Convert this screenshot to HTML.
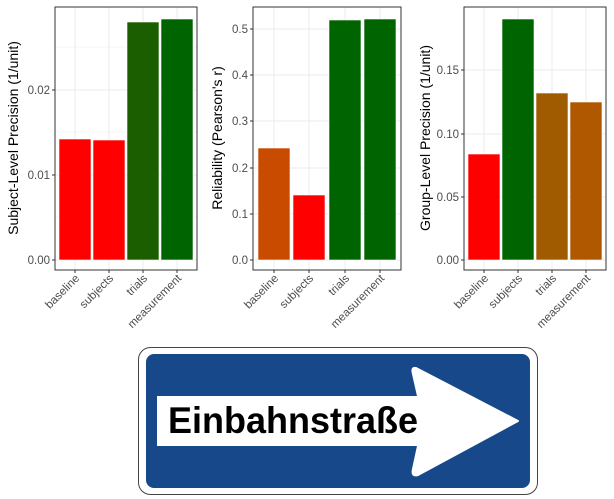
<!DOCTYPE html>
<html><head><meta charset="utf-8"><style>body{margin:0;background:#fff}svg{display:block}</style></head>
<body>
<svg width="614" height="499" viewBox="0 0 614 499" xmlns="http://www.w3.org/2000/svg" font-family="Liberation Sans, sans-serif">
<g stroke="#ebebeb" stroke-width="1">
<line x1="55" x2="197" y1="260" y2="260"/><line x1="55" x2="197" y1="175" y2="175"/><line x1="55" x2="197" y1="90" y2="90"/>
<line x1="55" x2="197" y1="217" y2="217" stroke-width="0.5"/><line x1="55" x2="197" y1="132" y2="132" stroke-width="0.5"/><line x1="55" x2="197" y1="47" y2="47" stroke-width="0.5"/>
<line x1="75" x2="75" y1="7" y2="270"/><line x1="109" x2="109" y1="7" y2="270"/><line x1="143" x2="143" y1="7" y2="270"/><line x1="177" x2="177" y1="7" y2="270"/>
<line x1="253" x2="401" y1="260" y2="260"/><line x1="253" x2="401" y1="214" y2="214"/><line x1="253" x2="401" y1="168" y2="168"/><line x1="253" x2="401" y1="121" y2="121"/><line x1="253" x2="401" y1="75" y2="75"/><line x1="253" x2="401" y1="29" y2="29"/>
<line x1="274" x2="274" y1="7" y2="270"/><line x1="309" x2="309" y1="7" y2="270"/><line x1="345" x2="345" y1="7" y2="270"/><line x1="380" x2="380" y1="7" y2="270"/>
<line x1="464" x2="606" y1="260" y2="260"/><line x1="464" x2="606" y1="197" y2="197"/><line x1="464" x2="606" y1="134" y2="134"/><line x1="464" x2="606" y1="70" y2="70"/>
<line x1="484" x2="484" y1="7" y2="270"/><line x1="518" x2="518" y1="7" y2="270"/><line x1="552" x2="552" y1="7" y2="270"/><line x1="586" x2="586" y1="7" y2="270"/>
</g>
<g stroke="#fff" stroke-width="0.6">
<rect x="59" y="139" width="32" height="121" fill="#ff0000"/>
<rect x="93" y="140" width="32" height="120" fill="#ff0000"/>
<rect x="127" y="22" width="32" height="238" fill="#1a5e00"/>
<rect x="161" y="19" width="32" height="241" fill="#006400"/>
<rect x="258" y="148" width="32" height="112" fill="#c84b00"/>
<rect x="293" y="195" width="32" height="65" fill="#ff0000"/>
<rect x="329" y="20" width="32" height="240" fill="#006400"/>
<rect x="364" y="19" width="32" height="241" fill="#006400"/>
<rect x="468" y="154" width="32" height="106" fill="#ff0000"/>
<rect x="502" y="19" width="32" height="241" fill="#006400"/>
<rect x="536" y="93" width="32" height="167" fill="#a05a00"/>
<rect x="570" y="102" width="32" height="158" fill="#b05800"/>
</g>
<g fill="none" stroke="#333" stroke-width="1">
<rect x="55" y="7" width="142" height="263"/><rect x="253" y="7" width="148" height="263"/><rect x="464" y="7" width="142" height="263"/>
</g>
<g stroke="#333" stroke-width="1">
<line x1="52" x2="55" y1="260" y2="260"/><line x1="52" x2="55" y1="175" y2="175"/><line x1="52" x2="55" y1="90" y2="90"/>
<line x1="250" x2="253" y1="260" y2="260"/><line x1="250" x2="253" y1="214" y2="214"/><line x1="250" x2="253" y1="168" y2="168"/><line x1="250" x2="253" y1="121" y2="121"/><line x1="250" x2="253" y1="75" y2="75"/><line x1="250" x2="253" y1="29" y2="29"/>
<line x1="461" x2="464" y1="260" y2="260"/><line x1="461" x2="464" y1="197" y2="197"/><line x1="461" x2="464" y1="134" y2="134"/><line x1="461" x2="464" y1="70" y2="70"/>
<line x1="75" x2="75" y1="270" y2="273"/><line x1="109" x2="109" y1="270" y2="273"/><line x1="143" x2="143" y1="270" y2="273"/><line x1="177" x2="177" y1="270" y2="273"/>
<line x1="274" x2="274" y1="270" y2="273"/><line x1="309" x2="309" y1="270" y2="273"/><line x1="345" x2="345" y1="270" y2="273"/><line x1="380" x2="380" y1="270" y2="273"/>
<line x1="484" x2="484" y1="270" y2="273"/><line x1="518" x2="518" y1="270" y2="273"/><line x1="552" x2="552" y1="270" y2="273"/><line x1="586" x2="586" y1="270" y2="273"/>
</g>
<g fill="#4d4d4d" font-size="11.5" text-anchor="end">
<text x="50" y="264">0.00</text><text x="50" y="179">0.01</text><text x="50" y="94">0.02</text>
<text x="248" y="264">0.0</text><text x="248" y="218">0.1</text><text x="248" y="172">0.2</text><text x="248" y="125">0.3</text><text x="248" y="79">0.4</text><text x="248" y="33">0.5</text>
<text x="459" y="264">0.00</text><text x="459" y="201">0.05</text><text x="459" y="138">0.10</text><text x="459" y="74">0.15</text>
<text transform="translate(80,279) rotate(-45)">baseline</text>
<text transform="translate(114,279) rotate(-45)">subjects</text>
<text transform="translate(148,279) rotate(-45)">trials</text>
<text transform="translate(182,279) rotate(-45)">measurement</text>
<text transform="translate(279,279) rotate(-45)">baseline</text>
<text transform="translate(314,279) rotate(-45)">subjects</text>
<text transform="translate(350,279) rotate(-45)">trials</text>
<text transform="translate(385,279) rotate(-45)">measurement</text>
<text transform="translate(489,279) rotate(-45)">baseline</text>
<text transform="translate(523,279) rotate(-45)">subjects</text>
<text transform="translate(557,279) rotate(-45)">trials</text>
<text transform="translate(591,279) rotate(-45)">measurement</text>
</g>
<g fill="#000" font-size="14" text-anchor="middle">
<text transform="translate(18,138) rotate(-90)">Subject-Level Precision (1/unit)</text>
<text transform="translate(222,138) rotate(-90)">Reliability (Pearson's r)</text>
<text transform="translate(430,138) rotate(-90)">Group-Level Precision (1/unit)</text>
</g>
<rect x="138.5" y="347.5" width="399" height="147" rx="12" fill="#fff" stroke="#444" stroke-width="1"/>
<rect x="146" y="354" width="384" height="134" rx="8" fill="#17498a"/>
<rect x="157" y="396" width="262" height="50" fill="#fff"/>
<path d="M416 368 Q411 367 413 374 L418 396 L418 446 L413 469 Q411 477 418 475 L518 421 Z" fill="#fff" stroke="#fff" stroke-width="2" stroke-linejoin="round"/>
<text x="168" y="433" font-size="37" font-weight="bold" fill="#000" textLength="250" lengthAdjust="spacingAndGlyphs">Einbahnstraße</text>
</svg>
</body></html>
